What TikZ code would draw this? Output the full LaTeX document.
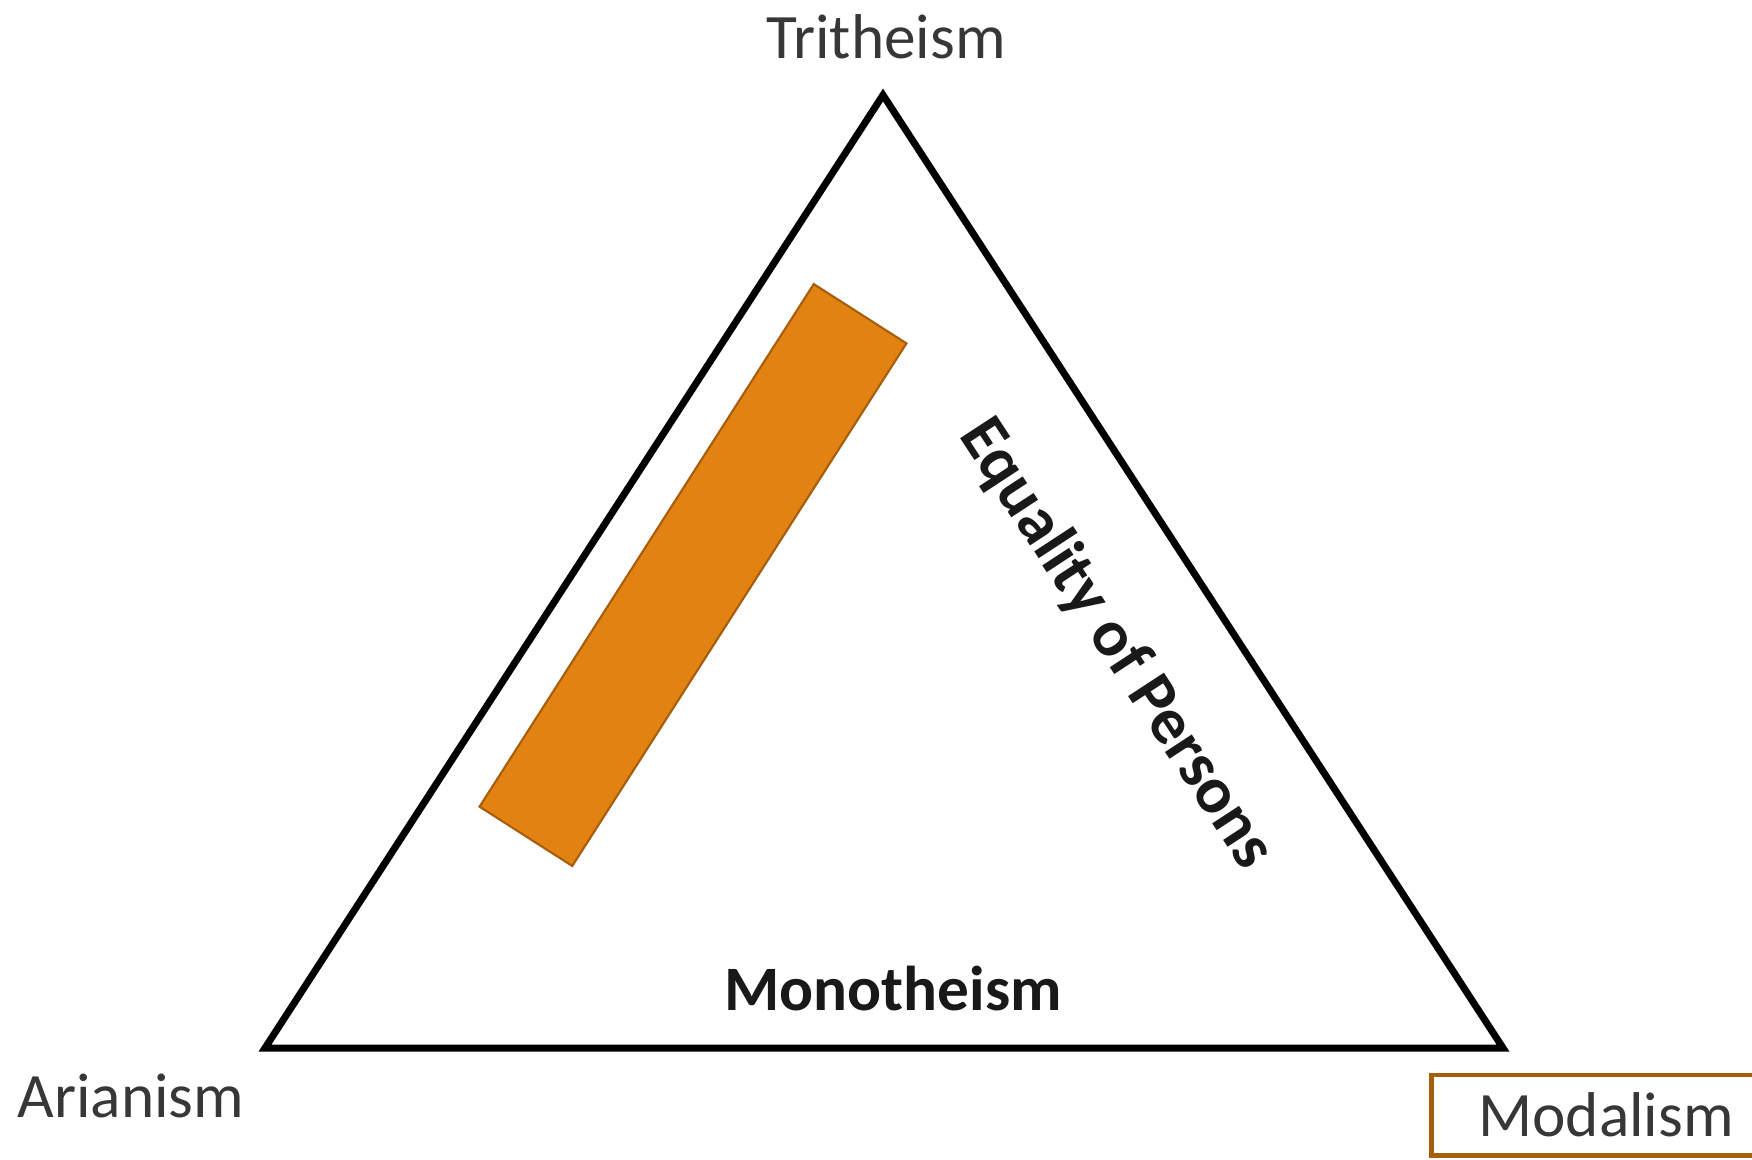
\documentclass[tikz,border=0pt]{standalone}
\usepackage{fontspec}
\setmainfont{Carlito}
\usepackage{xcolor}
\usepackage{tikz}
\definecolor{TrinityOrange}{RGB}{226,130,18}
\definecolor{TrinityBrown}{RGB}{166,94,12}
\definecolor{TrinityGray}{RGB}{55,55,55}
\definecolor{TrinityInk}{RGB}{25,25,25}

\begin{document}
\begin{tikzpicture}[
x=0.01cm, y=-0.01cm,
edge/.style={
draw=black,
line width=2pt,
line join=miter
},
heresy/.style={
text=TrinityGray,
font=\fontsize{18}{20}\selectfont,
anchor=base
},
doctrine/.style={
text=TrinityInk,
font=\fontsize{18}{20}\selectfont\bfseries
},
slab/.style={
draw=TrinityBrown,
fill=TrinityOrange,
line width=0.6pt,
minimum width=6.2cm,
minimum height=1.1cm,
inner sep=0pt
}
]

\clip (0,0) rectangle (1752,1159);

% corners of the triangle
\coordinate (top) at (883,95);
\coordinate (left) at (265,1048);
\coordinate (right) at (1503,1048);

\draw[edge] (top) -- (left) -- (right) -- cycle;

\node[slab, rotate=57.4] (bar) at (693,575) {};

\node[heresy] (tritheism) at (886,58) {Tritheism};
\node[heresy] (arianism) at (131,1117) {Arianism};

\node[
draw=TrinityBrown,
line width=1.4pt,
text=TrinityGray,
font=\fontsize{18}{20}\selectfont,
minimum width=3.48cm,
minimum height=0.8cm
] (modalism) at (1606,1115) {Modalism};

\node[doctrine, anchor=base] (monotheism) at (893,1010) {Monotheism};
\node[doctrine, font=\fontsize{18.8}{20}\selectfont\bfseries, rotate=-56.8] (equality) at (1116,644) {Equality of Persons};

\end{tikzpicture}
\end{document}
